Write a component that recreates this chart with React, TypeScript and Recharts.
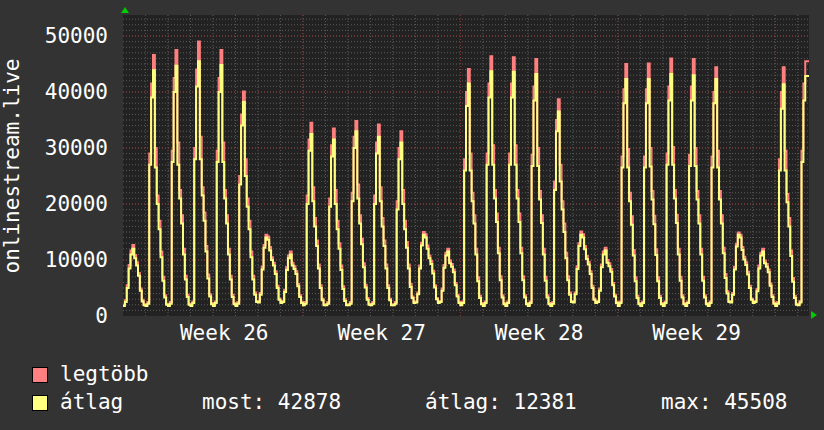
import React from 'react';
import { ComposedChart, Line, XAxis, YAxis, CartesianGrid } from 'recharts';

const STEP_HOURS = 2;
const TOTAL_HOURS = 732;

// átlag (average) – 2-hour samples, one row per day
const avgValues = [
  1800, 2500, 5000, 8500, 11000, 12000, 10300, 9000, 7200, 4500, 2600, 1900,
  1800, 2200, 27000, 39000, 43900, 26500, 20000, 15500, 10500, 6300, 3300, 2000,
  1800, 2200, 27500, 40000, 44700, 27000, 21000, 16500, 11000, 6500, 3400, 2000,
  1800, 2300, 28000, 41000, 45508, 28000, 21500, 17000, 11500, 6700, 3500, 2100,
  1800, 2300, 27500, 40000, 44800, 27500, 21000, 16500, 11000, 6500, 3400, 2100,
  1800, 2200, 23500, 34000, 38200, 25000, 19500, 15500, 10500, 6500, 3800, 2500,
  2400, 3800, 8300, 12200, 14000, 13600, 11700, 10000, 9000, 7500, 5000, 2900,
  2300, 2500, 4300, 8200, 10300, 11000, 9000, 8400, 7500, 5300, 3400, 2300,
  1900, 2200, 20000, 29500, 32500, 20500, 16000, 12500, 8500, 5000, 2800, 1900,
  1900, 2200, 19500, 28500, 31500, 20000, 15500, 12000, 8200, 4800, 2700, 1900,
  1900, 2200, 20500, 30000, 33000, 21000, 16500, 12800, 8700, 5100, 2900, 2000,
  1900, 2200, 20000, 29000, 32000, 20500, 16000, 12500, 8500, 5000, 2800, 1900,
  1900, 2200, 19000, 28000, 31000, 20000, 15500, 12200, 8500, 5200, 3200, 2300,
  2400, 3900, 8500, 12600, 14500, 14000, 12000, 10300, 9300, 7600, 5100, 3000,
  2300, 2500, 4500, 8600, 10800, 11500, 9400, 8800, 7800, 5500, 3500, 2300,
  1900, 2300, 26000, 37500, 41500, 26000, 20500, 16500, 11000, 6200, 3200, 2100,
  1800, 2300, 27000, 39000, 43700, 27000, 21000, 16800, 11200, 6400, 3300, 2100,
  1800, 2300, 27000, 39000, 43600, 27000, 21000, 16800, 11200, 6400, 3300, 2100,
  1800, 2300, 26800, 38500, 43200, 26800, 20800, 16600, 11000, 6300, 3300, 2100,
  1800, 2200, 22500, 33000, 36500, 24000, 19000, 15000, 10300, 6400, 3800, 2500,
  2400, 3900, 8400, 12500, 14500, 14000, 11900, 10200, 9200, 7500, 5000, 2900,
  2300, 2500, 4500, 8700, 11000, 11700, 9500, 8900, 7900, 5500, 3500, 2300,
  1800, 2300, 26500, 38000, 42300, 26500, 20500, 16300, 10800, 6200, 3200, 2100,
  1800, 2300, 26500, 38000, 42300, 26700, 20800, 16400, 10900, 6200, 3200, 2100,
  1800, 2300, 27000, 38500, 43200, 27000, 21000, 16600, 11000, 6300, 3300, 2100,
  1800, 2300, 26800, 38500, 43000, 26800, 20800, 16500, 11000, 6300, 3300, 2100,
  1800, 2300, 26500, 38000, 42300, 26500, 20800, 16500, 11200, 6800, 4000, 2500,
  2400, 3800, 8300, 12400, 14500, 14000, 11800, 10100, 9100, 7400, 5000, 2900,
  2300, 2500, 4400, 8500, 10800, 11500, 9400, 8800, 7800, 5400, 3400, 2200,
  1800, 2200, 26000, 37000, 41400, 26000, 20300, 16000, 10700, 6100, 3200, 2000,
  1900, 2400, 27500, 38500, 42878, 42878,
];

// legtöbb (maximum) – 2-hour samples, one row per day
const maxValues = [
  2000, 2800, 5500, 9100, 11700, 12700, 10900, 9600, 7700, 4900, 2900, 2100,
  2000, 2500, 29000, 41500, 46600, 30000, 21500, 17000, 11500, 7000, 3700, 2200,
  2000, 2500, 29500, 42500, 47500, 31000, 22500, 18000, 12000, 7200, 3800, 2200,
  2000, 2600, 30000, 44000, 49000, 32000, 23000, 18500, 12500, 7400, 3900, 2300,
  2000, 2600, 29500, 42500, 47500, 31000, 22500, 18000, 12000, 7200, 3800, 2300,
  2000, 2500, 25000, 36000, 40100, 28000, 21000, 17000, 11500, 7200, 4200, 2700,
  2600, 4100, 8800, 12700, 14500, 14200, 12300, 10500, 9500, 8000, 5400, 3100,
  2500, 2700, 4700, 8700, 10800, 11500, 9500, 8900, 8000, 5700, 3700, 2500,
  2100, 2500, 21500, 31500, 34500, 23000, 17500, 13500, 9200, 5500, 3100, 2100,
  2100, 2500, 21000, 30500, 33500, 22500, 17000, 13000, 9000, 5300, 3000, 2100,
  2100, 2500, 22000, 32000, 34800, 23500, 18000, 13800, 9400, 5600, 3200, 2200,
  2100, 2500, 21500, 31000, 34200, 23000, 17500, 13500, 9200, 5500, 3100, 2100,
  2100, 2500, 20500, 30000, 33000, 22500, 17000, 13200, 9200, 5700, 3500, 2500,
  2600, 4200, 9000, 13100, 15000, 14600, 12600, 10800, 9800, 8100, 5500, 3200,
  2500, 2700, 4900, 9100, 11300, 12000, 9900, 9300, 8300, 5900, 3800, 2500,
  2100, 2600, 28000, 40000, 44100, 29000, 22000, 18000, 12000, 6900, 3600, 2300,
  2000, 2600, 29000, 41500, 46400, 30500, 22500, 18300, 12200, 7100, 3700, 2300,
  2000, 2600, 29000, 41500, 46200, 30500, 22500, 18300, 12200, 7100, 3700, 2300,
  2000, 2600, 28800, 41000, 45900, 30000, 22300, 18000, 12000, 7000, 3700, 2300,
  2000, 2500, 24000, 35000, 38700, 27000, 20500, 16500, 11300, 7100, 4200, 2700,
  2600, 4200, 8900, 13000, 15100, 14600, 12500, 10700, 9700, 8000, 5400, 3100,
  2500, 2700, 4900, 9200, 11500, 12200, 10000, 9400, 8400, 5900, 3800, 2500,
  2000, 2600, 28500, 40500, 45000, 29800, 22000, 17800, 11800, 6900, 3600, 2300,
  2000, 2600, 28500, 40500, 45100, 30000, 22300, 17900, 11900, 6900, 3600, 2300,
  2000, 2600, 29000, 41000, 46000, 30200, 22500, 18100, 12000, 7000, 3700, 2300,
  2000, 2600, 28800, 41000, 45900, 30000, 22300, 18000, 12000, 7000, 3700, 2300,
  2000, 2600, 28500, 40000, 44400, 29500, 22300, 18000, 12200, 7500, 4400, 2700,
  2600, 4100, 8800, 12900, 14900, 14500, 12300, 10600, 9600, 7900, 5400, 3100,
  2500, 2700, 4800, 9000, 11300, 12000, 9900, 9300, 8300, 5800, 3700, 2400,
  2000, 2500, 28000, 40000, 44400, 29500, 21800, 17500, 11700, 6800, 3600, 2200,
  2100, 2700, 29500, 41500, 45508, 45508,
];

const yTicks = [0, 10000, 20000, 30000, 40000, 50000];
const Y_MAX = 53750;
const weekTicks = [108, 276, 444, 612];
const weekLabels = ['Week 26', 'Week 27', 'Week 28', 'Week 29'];
const weekStarts = [24, 192, 360, 528, 696];
const dayStarts = Array.from({ length: 30 }, (_, i) => (i + 1) * 24);
const minorY = Array.from({ length: 53 }, (_, i) => (i + 1) * 1000);
const majorY = [10000, 20000, 30000, 40000, 50000];

const legendItems = [
  { label: 'legtöbb', color: '#ff8080' },
  { label: 'átlag', color: '#ffff80' },
];
const statsTexts = ['most: 42878', 'átlag: 12381', 'max: 45508'];

const data = avgValues.map((a, i) => ({ t: i * STEP_HOURS, avg: a, max: maxValues[i] }));
data.push({
  t: TOTAL_HOURS,
  avg: avgValues[avgValues.length - 1],
  max: maxValues[maxValues.length - 1],
});

const FONT = '"DejaVu Sans Mono", monospace';
const tickStyle = { fill: '#ffffff', fontSize: 21, fontFamily: FONT };

export default function App() {
  return (
    <div style={{ position: 'absolute', left: 0, top: 0, width: 824, height: 430, background: '#333333' }}>
      <ComposedChart width={824} height={430} data={data} margin={{ top: 15, right: 15, bottom: 84, left: 0 }}>
        <CartesianGrid
          fill="#222222"
          stroke="#5c5c5c"
          strokeDasharray="1 2"
          horizontalValues={minorY}
          verticalValues={dayStarts}
        />
        <CartesianGrid
          fill="none"
          stroke="#8c3434"
          strokeDasharray="1 2"
          horizontalValues={majorY}
          verticalValues={weekStarts}
        />
        <XAxis
          type="number"
          dataKey="t"
          domain={[0, TOTAL_HOURS]}
          ticks={weekTicks}
          interval={0}
          tickFormatter={(v: number) => weekLabels[weekTicks.indexOf(v)]}
          axisLine={false}
          tickLine={false}
          tickSize={0}
          tickMargin={9}
          height={30}
          tick={tickStyle}
          allowDataOverflow
        />
        <YAxis
          type="number"
          domain={[0, Y_MAX]}
          ticks={yTicks}
          interval={0}
          width={123}
          axisLine={false}
          tickLine={false}
          tickSize={0}
          tickMargin={15}
          tick={tickStyle}
          allowDataOverflow
        />
        <Line type="stepAfter" dataKey="max" stroke="#ff7f7f" strokeWidth={2} dot={false} activeDot={false} isAnimationActive={false} />
        <Line type="stepAfter" dataKey="avg" stroke="#ffff7f" strokeWidth={2} dot={false} activeDot={false} isAnimationActive={false} />
      </ComposedChart>
      <svg width={824} height={430} style={{ position: 'absolute', left: 0, top: 0, pointerEvents: 'none' }}>
        <text
          transform="translate(19,166) rotate(-90)"
          textAnchor="middle"
          fill="#ffffff"
          fontSize={21}
          fontFamily={FONT}
        >
          onlinestream.live
        </text>
        <polygon points="121,13 129,13 125,7" fill="#00cc00" />
        <polygon points="811,311 811,319 817,315" fill="#00cc00" />
        {legendItems.map((it, i) => (
          <g key={it.label}>
            <rect x={32.5} y={367.5 + i * 28} width={15} height={15} fill={it.color} stroke="#000" strokeWidth={1} />
            <text x={60} y={381 + i * 28} fill="#ffffff" fontSize={21} fontFamily={FONT}>
              {it.label}
            </text>
          </g>
        ))}
        {statsTexts.map((s, i) => (
          <text key={s} x={[202, 425, 661][i]} y={409} fill="#ffffff" fontSize={21} fontFamily={FONT}>
            {s}
          </text>
        ))}
      </svg>
    </div>
  );
}
